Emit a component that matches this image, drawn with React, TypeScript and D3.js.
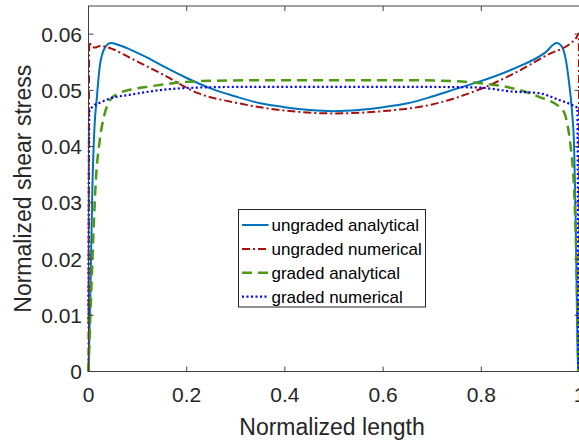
import React from "react";
import * as d3 from "d3";

const W = 579;
const H = 441;

const xTicks = [0, 0.2, 0.4, 0.6, 0.8, 1];
const yTicks = [0, 0.01, 0.02, 0.03, 0.04, 0.05, 0.06];
const xTickLabels = ["0", "0.2", "0.4", "0.6", "0.8", "1"];
const yTickLabels = ["0", "0.01", "0.02", "0.03", "0.04", "0.05", "0.06"];

const ungradedAnalyticalX = [0, 0.004, 0.008, 0.0125, 0.0166, 0.023, 0.0335, 0.0457, 0.06, 0.084, 0.12, 0.152, 0.2, 0.25, 0.3, 0.35, 0.4, 0.45, 0.5, 0.55, 0.6, 0.65, 0.7, 0.75, 0.794, 0.862, 0.93, 0.9535, 0.963, 0.972, 0.978, 0.985, 0.989, 0.992, 0.994, 0.996, 0.998];
const ungradedAnalyticalY = [0, 0.015, 0.033, 0.044, 0.0483, 0.0543, 0.0576, 0.0584, 0.0581, 0.0573, 0.0558, 0.0543, 0.0522, 0.0503, 0.0489, 0.0477, 0.047, 0.0465, 0.0463, 0.0465, 0.047, 0.0477, 0.0489, 0.0503, 0.0515, 0.0537, 0.0567, 0.0584, 0.0579, 0.0555, 0.0519, 0.046, 0.04, 0.0281, 0.0162, 0.0043, 0];

const ungradedNumericalX = [0, 0.0015, 0.006, 0.013, 0.023, 0.05, 0.084, 0.152, 0.223, 0.3, 0.4, 0.5, 0.6, 0.7, 0.794, 0.862, 0.93, 0.994, 0.9985, 1];
const ungradedNumericalY = [0, 0.0586, 0.0578, 0.0576, 0.0579, 0.0573, 0.0558, 0.0528, 0.0495, 0.0478, 0.0464, 0.0459, 0.0463, 0.0475, 0.0501, 0.0528, 0.0561, 0.0594, 0.0601, 0];

const gradedAnalyticalX = [0, 0.008, 0.015, 0.023, 0.032, 0.044, 0.06, 0.084, 0.125, 0.186, 0.25, 0.35, 0.5, 0.65, 0.75, 0.794, 0.876, 0.916, 0.965, 0.982, 0.989, 0.992, 0.9945, 0.996, 0.998];
const gradedAnalyticalY = [0, 0.02, 0.034, 0.0412, 0.0455, 0.0483, 0.0494, 0.0501, 0.0507, 0.0514, 0.0517, 0.0518, 0.0518, 0.0518, 0.0516, 0.0513, 0.0501, 0.0489, 0.0466, 0.04, 0.0323, 0.0251, 0.0162, 0.0072, 0];

const gradedNumericalX = [0, 0.0015, 0.01, 0.023, 0.05, 0.084, 0.151, 0.226, 0.3, 0.5, 0.7, 0.794, 0.862, 0.917, 0.958, 0.985, 0.9955, 0.998];
const gradedNumericalY = [0.0085, 0.0462, 0.0472, 0.0478, 0.0487, 0.0492, 0.0501, 0.0505, 0.0506, 0.0506, 0.0506, 0.0505, 0.0498, 0.0495, 0.0483, 0.0474, 0.0469, 0];

const seriesNames = ["ungraded analytical", "ungraded numerical", "graded analytical", "graded numerical"];
const seriesColors = ["#0072BD", "#A50F0F", "#4C9A12", "#0000FF"];
const seriesDash = ["none", "8,3,2,3", "10,6", "2,2.5"];
const seriesWidth = [2, 2, 2.5, 2.2];

const left = 88.5;
const right = 579.5;
const top = 6;
const bottom = 371.5;

export default function App() {
  const x = d3.scaleLinear().domain([0, 1]).range([left, right]);
  const y = d3.scaleLinear().domain([0, 0.065]).range([bottom, top]);
  const line = d3
    .line<[number, number]>()
    .x((d) => x(d[0]))
    .y((d) => y(d[1]))
    .curve(d3.curveMonotoneX);

  const series = [
    [ungradedAnalyticalX, ungradedAnalyticalY],
    [ungradedNumericalX, ungradedNumericalY],
    [gradedAnalyticalX, gradedAnalyticalY],
    [gradedNumericalX, gradedNumericalY],
  ].map(([xs, ys]) => xs.map((v, i) => [v, ys[i]] as [number, number]));

  const font = "'Liberation Sans', Arial, sans-serif";
  const axisColor = "#404040";
  const textColor = "#262626";
  const tl = 5;

  const legX = 238.5;
  const legY = 209.5;
  const legW = 187;
  const legH = 97.5;
  const rowH = 23.9;

  return (
    <svg
      width={W}
      height={H}
      style={{ position: "absolute", left: 0, top: 0, background: "#fff" }}
      fontFamily={font}
    >
      <rect x={0} y={0} width={W} height={H} fill="#fff" />
      {series.map((pts, i) => (
        <path
          key={i}
          d={line(pts) || ""}
          fill="none"
          stroke={seriesColors[i]}
          strokeWidth={seriesWidth[i]}
          strokeDasharray={seriesDash[i]}
        />
      ))}
      {/* axes box */}
      <rect x={left} y={top} width={right - left} height={bottom - top} fill="none" stroke={axisColor} strokeWidth={1} />
      {xTicks.map((t, i) => (
        <g key={"xt" + i}>
          <line x1={x(t)} x2={x(t)} y1={bottom} y2={bottom - tl} stroke={axisColor} />
          <line x1={x(t)} x2={x(t)} y1={top} y2={top + tl} stroke={axisColor} />
          <text x={x(t)} y={402} textAnchor="middle" fontSize={21} fill={textColor}>
            {xTickLabels[i]}
          </text>
        </g>
      ))}
      {yTicks.map((t, i) => (
        <g key={"yt" + i}>
          <line x1={left} x2={left + tl} y1={y(t)} y2={y(t)} stroke={axisColor} />
          <line x1={right} x2={right - tl} y1={y(t)} y2={y(t)} stroke={axisColor} />
          <text x={82} y={y(t)} dy="0.36em" textAnchor="end" fontSize={21} fill={textColor}>
            {yTickLabels[i]}
          </text>
        </g>
      ))}
      <text x={(left + right) / 2 - 2} y={435} textAnchor="middle" fontSize={23} fill={textColor}>
        Normalized length
      </text>
      <text
        transform={`translate(31,${(top + bottom) / 2}) rotate(-90)`}
        textAnchor="middle"
        fontSize={23}
        fill={textColor}
      >
        Normalized shear stress
      </text>
      {/* legend */}
      <rect x={legX} y={legY} width={legW} height={legH} fill="#fff" stroke={textColor} strokeWidth={1} />
      {seriesNames.map((name, i) => {
        const cy = legY + 15.5 + i * rowH;
        return (
          <g key={"lg" + i}>
            <line
              x1={legX + 3.5}
              x2={legX + 30}
              y1={cy}
              y2={cy}
              stroke={seriesColors[i]}
              strokeWidth={seriesWidth[i]}
              strokeDasharray={seriesDash[i]}
            />
            <text x={legX + 33} y={cy} dy="0.35em" fontSize={17} fill="#000">
              {name}
            </text>
          </g>
        );
      })}
    </svg>
  );
}
